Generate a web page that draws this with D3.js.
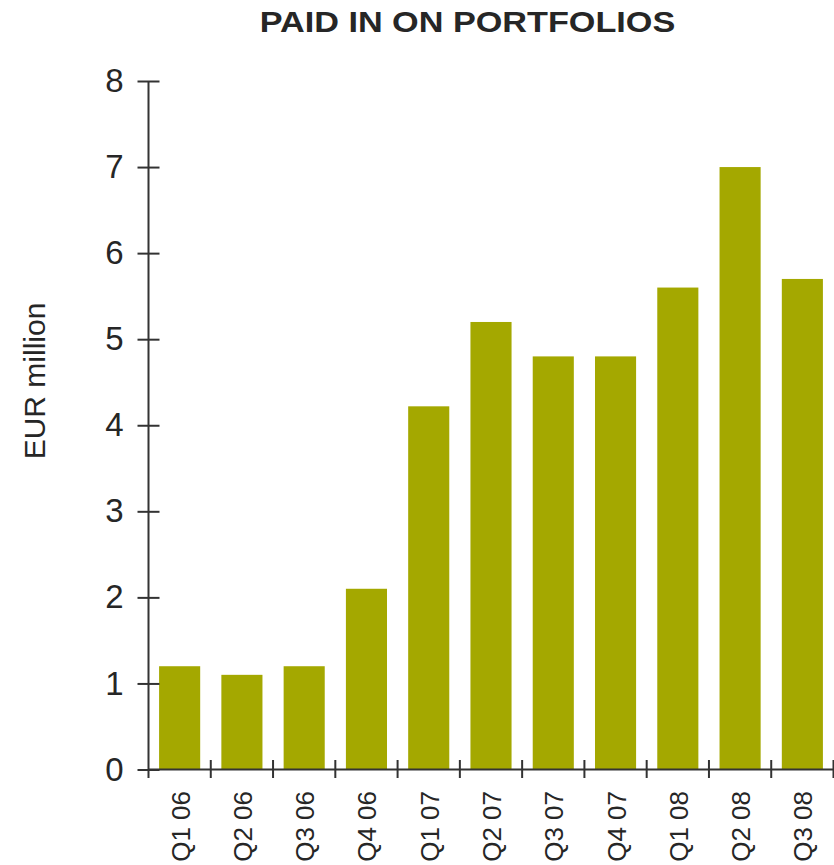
<!DOCTYPE html>
<html>
<head>
<meta charset="utf-8">
<script src="https://cdn.jsdelivr.net/npm/d3@7"></script>
<style>
  body { margin: 0; background: #fff; }
  text { font-family: "Liberation Sans", Arial, sans-serif; fill: #262626; }
</style>
</head>
<body>
<div id="canvas"></div>
<script>
"use strict";

// Data
let quarters = ["Q1 06", "Q2 06", "Q3 06", "Q4 06", "Q1 07", "Q2 07", "Q3 07", "Q4 07", "Q1 08", "Q2 08", "Q3 08"];
let paidIn = [1.2, 1.1, 1.2, 2.1, 4.22, 5.2, 4.8, 4.8, 5.6, 7.0, 5.7];
let yTicks = [0, 1, 2, 3, 4, 5, 6, 7, 8];

let svgWidth = 834;
let svgHeight = 865;
let axisColor = "#333333";
let barColor = "#a4a800";

let svg = d3.select("#canvas")
    .append("svg")
    .attr("width", svgWidth)
    .attr("height", svgHeight);

// Scales
let xScale = d3.scaleBand()
    .domain(quarters)
    .range([148.5, 833.5])
    .paddingInner(0.34)
    .paddingOuter(0.17);

let yScale = d3.scaleLinear()
    .domain([0, 8])
    .range([769.5, 81]);

// Bars
svg.selectAll("rect.bar")
    .data(quarters)
    .join("rect")
    .attr("class", "bar")
    .attr("x", d => xScale(d))
    .attr("y", (d, i) => yScale(paidIn[i]))
    .attr("width", xScale.bandwidth())
    .attr("height", (d, i) => yScale(0) - yScale(paidIn[i]))
    .attr("fill", barColor);

// Y axis
let yAxis = svg.append("g")
    .attr("transform", "translate(148.5,0)")
    .call(d3.axisLeft(yScale).tickValues(yTicks).tickSize(11).tickPadding(14));

yAxis.select(".domain").remove();
yAxis.selectAll(".tick line")
    .attr("x1", 11)
    .attr("x2", -11)
    .attr("stroke", axisColor)
    .attr("stroke-width", 2);
yAxis.selectAll(".tick text")
    .attr("x", -25)
    .attr("font-size", 33)
    .attr("font-family", "Liberation Sans, Arial, sans-serif")
    .attr("fill", "#262626");

svg.append("line")
    .attr("x1", 148.5).attr("x2", 148.5)
    .attr("y1", yScale(8)).attr("y2", 778)
    .attr("stroke", axisColor)
    .attr("stroke-width", 2);

// X axis
svg.append("line")
    .attr("x1", 148.5).attr("x2", svgWidth)
    .attr("y1", yScale(0)).attr("y2", yScale(0))
    .attr("stroke", axisColor)
    .attr("stroke-width", 2);

let step = xScale.step();
svg.selectAll("line.xtick")
    .data(quarters.slice(1).concat(["end"]))
    .join("line")
    .attr("class", "xtick")
    .attr("x1", (d, i) => 148.5 + (i + 1) * step)
    .attr("x2", (d, i) => 148.5 + (i + 1) * step)
    .attr("y1", 760)
    .attr("y2", 778)
    .attr("stroke", axisColor)
    .attr("stroke-width", 2);

svg.selectAll("text.xlabel")
    .data(quarters)
    .join("text")
    .attr("class", "xlabel")
    .attr("transform", d => `translate(${xScale(d) + xScale.bandwidth() / 2 + 10}, 791) rotate(-90)`)
    .attr("text-anchor", "end")
    .attr("font-size", 26)
    .text(d => d);

// Y axis label
svg.append("text")
    .attr("transform", "translate(45,381) rotate(-90)")
    .attr("text-anchor", "middle")
    .attr("font-size", 30)
    .text("EUR million");

// Title
svg.append("text")
    .attr("transform", "translate(467.5,32) scale(1.18,1)")
    .attr("text-anchor", "middle")
    .attr("font-size", 29)
    .attr("font-weight", "bold")
    .text("PAID IN ON PORTFOLIOS");
</script>
</body>
</html>
